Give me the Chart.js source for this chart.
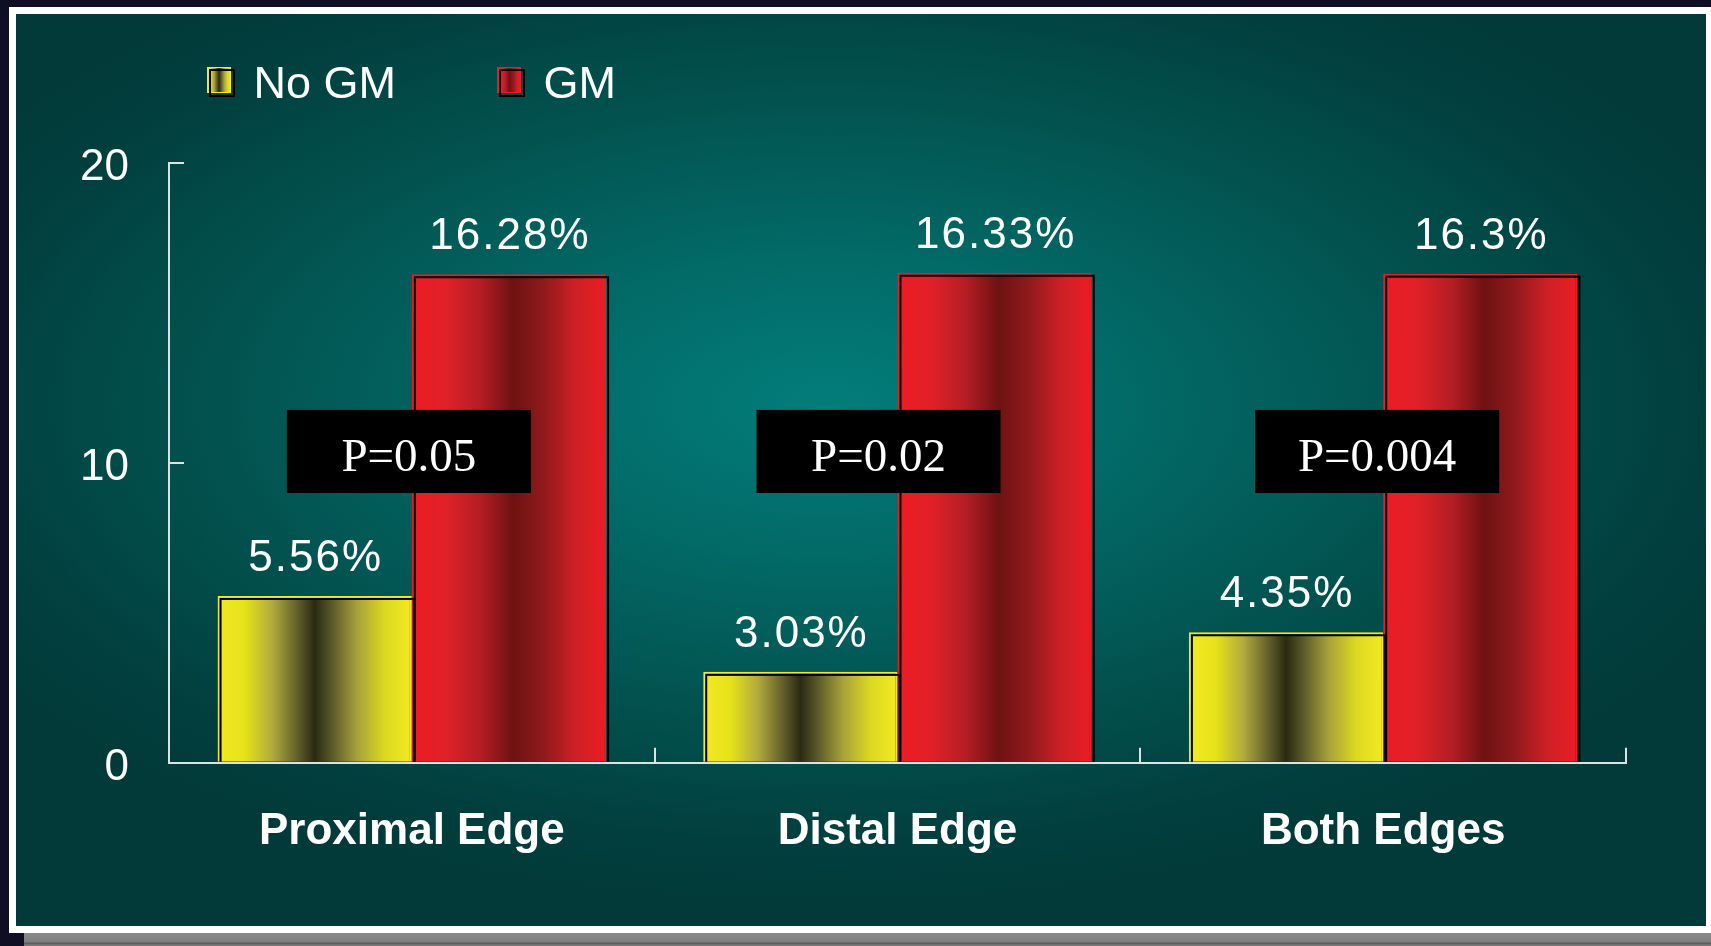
<!DOCTYPE html>
<html>
<head>
<meta charset="utf-8">
<script src="https://cdn.jsdelivr.net/npm/chart.js@4.4.1/dist/chart.umd.min.js"></script>
<style>
  html, body { margin: 0; padding: 0; }
  body { width: 1711px; height: 946px; overflow: hidden; background: #0e0f25; position: relative; }
  #frame { position: absolute; left: 9px; top: 7px; width: 1702px; height: 926px; background: #ffffff; }
  #panel { position: absolute; left: 16px; top: 14px; width: 1690px; height: 912px;
    background: radial-gradient(ellipse 1000px 500px at 810px 390px, #027d7b 0%, #026a67 30%, #02524f 62%, #013f3e 88%, #013a39 100%); }
  #strip { position: absolute; left: 24px; top: 933px; width: 1687px; height: 13px;
    background: linear-gradient(to bottom, #8a8a8a 0px, #808080 9px, #5c5c5c 10px, #5c5c5c 11px, #808080 12px); }
  #c { position: absolute; left: 0; top: 0; }
</style>
</head>
<body>
<div id="frame"></div>
<div id="panel"></div>
<div id="strip"></div>
<canvas id="c" width="1711" height="946"></canvas>
<script>
// ---- data ----
const categories = ['Proximal Edge', 'Distal Edge', 'Both Edges'];
const seriesNames = ['No GM', 'GM'];
const noGM = [5.56, 3.03, 4.35];
const gm = [16.28, 16.33, 16.3];
const pValues = ['P=0.05', 'P=0.02', 'P=0.004'];
const yTickValues = [0, 10, 20];

// ---- styles ----
const yellowStops = [[0, '#f2ea24'], [0.14, '#e6e218'], [0.28, '#b2ab3e'], [0.42, '#5c5a28'], [0.5, '#2a2a12'], [0.58, '#555526'], [0.72, '#a8a23a'], [0.86, '#dcd820'], [1, '#f2ea24']];
const redStops = [[0, '#ed1c24'], [0.18, '#e02028'], [0.35, '#b41e24'], [0.52, '#6e1212'], [0.68, '#901a1c'], [0.84, '#cc2026'], [1, '#ed1c24']];
const AXIS = '#dde3e3';
const LEGEND_BOX_H = 133.2;

function makeGrad(ctx2d, x0, x1, stops) {
  const g = ctx2d.createLinearGradient(x0, 0, x1, 0);
  stops.forEach(s => g.addColorStop(s[0], s[1]));
  return g;
}
function barGradient(stops, fallback) {
  return function (ctx) {
    const chart = ctx.chart;
    if (ctx.dataIndex === undefined) return fallback;
    const meta = chart.getDatasetMeta(ctx.datasetIndex);
    const el = meta.data[ctx.dataIndex];
    if (!el || !isFinite(el.x) || !isFinite(el.width)) return fallback;
    return makeGrad(chart.ctx, el.x - el.width / 2, el.x + el.width / 2, stops);
  };
}

// let the y tick labels extend left of the (narrow) y scale box
const noLabelClip = {
  id: 'noLabelClip',
  beforeDraw(chart) {
    const y = chart.scales.y;
    if (y) y._computeLabelArea = () => undefined;
  }
};

// outline (offset black frame) + value labels + P boxes
const barDecor = {
  id: 'barDecor',
  afterDatasetsDraw(chart) {
    const c = chart.ctx, a = chart.chartArea;
    c.save();
    c.beginPath();
    c.rect(a.left, a.top - 100, a.right - a.left + 30, a.bottom - a.top + 100 - 1);
    c.clip();
    c.strokeStyle = '#000';
    c.lineWidth = 2;
    chart.data.datasets.forEach((ds, di) => {
      chart.getDatasetMeta(di).data.forEach(el => {
        const left = el.x - el.width / 2;
        c.strokeRect(left + 3, el.y + 3, el.width - 1, el.base - el.y);
      });
    });
    c.restore();

    c.save();
    c.fillStyle = '#ffffff';
    c.font = '44px "Liberation Sans", Arial, sans-serif';
    if ('letterSpacing' in c) c.letterSpacing = '2px';
    c.textAlign = 'center';
    c.textBaseline = 'alphabetic';
    chart.data.datasets.forEach((ds, di) => {
      chart.getDatasetMeta(di).data.forEach((el, i) => {
        c.fillText(ds.data[i] + '%', el.x + 1, el.y - 25);
      });
    });
    c.restore();

    const xs = chart.scales.x, ys = chart.scales.y;
    const offs = [-3, -19, -6];
    c.save();
    pValues.forEach((p, i) => {
      const cx = xs.getPixelForValue(i) + offs[i];
      const top = ys.getPixelForValue(11.76);
      const bot = ys.getPixelForValue(8.99);
      c.fillStyle = '#000';
      c.fillRect(cx - 122, top, 244, bot - top);
      c.fillStyle = '#fff';
      c.font = '47px "Liberation Serif", "Times New Roman", serif';
      c.textAlign = 'center';
      c.textBaseline = 'middle';
      c.fillText(p, cx, (top + bot) / 2 + 7);
    });
    c.restore();
  }
};

// custom legend markers
const legendMarkers = {
  id: 'legendMarkers',
  afterDraw(chart) {
    const lg = chart.legend;
    if (!lg || !lg.legendHitBoxes) return;
    const c = chart.ctx;
    const stops = [yellowStops, redStops];
    const solid = ['#f2ea24', '#ed1c24'];
    lg.legendHitBoxes.forEach((hb, i) => {
      const w = 24, h = 26;
      const x = hb.left, y = hb.top + LEGEND_BOX_H / 2 - 19;
      c.save();
      c.fillStyle = makeGrad(c, x, x + w, stops[i]);
      c.fillRect(x, y, w, h);
      c.strokeStyle = solid[i];
      c.lineWidth = 1;
      c.strokeRect(x + 0.5, y + 0.5, w - 1, h - 1);
      c.strokeStyle = '#000';
      c.lineWidth = 2;
      c.strokeRect(x + 3, y + 3, w, h);
      c.restore();
    });
  }
};

const origGen = Chart.defaults.plugins.legend.labels.generateLabels;

const chart = new Chart(document.getElementById('c'), {
  type: 'bar',
  data: {
    labels: categories,
    datasets: [
      { label: seriesNames[0], data: noGM, backgroundColor: barGradient(yellowStops, '#e6e218'),
        borderColor: '#f2ea24', borderWidth: 2, borderSkipped: 'bottom',
        categoryPercentage: 0.8, barPercentage: 1.0 },
      { label: seriesNames[1], data: gm, backgroundColor: barGradient(redStops, '#ed1c24'),
        borderColor: '#ed1c24', borderWidth: 2, borderSkipped: 'bottom',
        categoryPercentage: 0.8, barPercentage: 1.0 }
    ]
  },
  options: {
    responsive: false,
    animation: false,
    devicePixelRatio: 1,
    layout: { padding: { top: -81.6, left: 106, right: 85, bottom: 83.2 } },
    plugins: {
      tooltip: { enabled: false },
      legend: {
        position: 'top',
        align: 'start',
        labels: {
          color: '#ffffff',
          font: { family: '"Liberation Sans", Arial, sans-serif', size: 45 },
          boxWidth: 24,
          boxHeight: LEGEND_BOX_H,
          padding: 101,
          generateLabels(ch) {
            return origGen(ch).map(l => Object.assign(l, {
              fillStyle: 'rgba(0,0,0,0)', strokeStyle: 'rgba(0,0,0,0)', lineWidth: 0
            }));
          }
        }
      }
    },
    scales: {
      x: {
        z: 1,
        grid: { display: true, drawOnChartArea: false, drawTicks: true, tickLength: -15, color: AXIS, lineWidth: 2, offset: true },
        border: { display: true, color: AXIS, width: 2 },
        ticks: { color: '#ffffff', padding: 58, font: { family: '"Liberation Sans", Arial, sans-serif', size: 44, weight: 'bold' } },
        afterFit(s) { s.height = 100; }
      },
      y: {
        z: 1,
        min: yTickValues[0], max: yTickValues[yTickValues.length - 1],
        grid: { display: true, drawOnChartArea: false, drawTicks: true, tickLength: -15, color: AXIS, lineWidth: 2 },
        border: { display: true, color: AXIS, width: 2 },
        ticks: { stepSize: yTickValues[1] - yTickValues[0], color: '#ffffff', padding: 55, labelOffset: 5,
          font: { family: '"Liberation Sans", Arial, sans-serif', size: 44 },
          callback: v => String(v) },
        afterFit(s) { s.width = 63; }
      }
    }
  },
  plugins: [noLabelClip, barDecor, legendMarkers]
});
chart.update('none');
</script>
</body>
</html>
